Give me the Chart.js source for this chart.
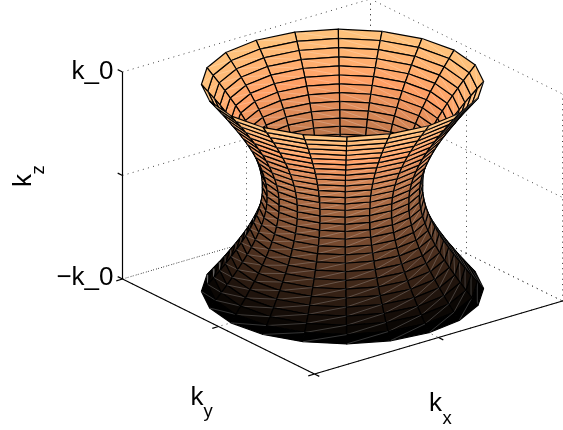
<!DOCTYPE html>
<html>
<head>
<meta charset="utf-8">
<style>html,body{margin:0;padding:0;background:#fff}canvas{display:block}</style>
<script src="https://cdn.jsdelivr.net/npm/chart.js@4/dist/chart.umd.min.js"></script>
</head>
<body>
<canvas id="c" width="563" height="430"></canvas>
<script>
// Surface: ring height (in units of k_0) and ring radius.
const kzLevels = [-1,-0.9333,-0.8667,-0.8,-0.7333,-0.6667,-0.6,-0.5333,-0.4667,-0.4,-0.3333,-0.2667,-0.2,-0.1333,-0.0667,0,
  0.0667,0.1333,0.2,0.2667,0.3333,0.4,0.4667,0.5333,0.6,0.6667,0.7333,0.8,0.8667,0.9333,1];
const kRadii = [0.900,0.860,0.820,0.782,0.746,0.710,0.677,0.645,0.616,0.590,0.567,0.547,0.531,0.519,0.512,0.510,
  0.512,0.519,0.531,0.547,0.567,0.590,0.616,0.645,0.677,0.710,0.746,0.782,0.820,0.860,0.900];
const azimuthDeg = [0,18,36,54,72,90,108,126,144,162,180,198,216,234,252,270,288,306,324,342,360];
const axisTicks = [-1,0,1];
const zTickLabels = ['\u2212k_0','','k_0'];

// Orthographic view of the axes box
const view = {cx:342.5, cy:186.5, xx:124, xy:-96, yx:-36.5, yy:-47.5, yz:-103.5};
const project = (x,y,z)=>({x:view.cx+view.xx*x+view.xy*y, y:view.cy+view.yx*x+view.yy*y+view.yz*z});
const depth = (x,y,z)=>0.924*(-0.612*x-0.791*y)+0.383*0.714*z;

function copper(v){
  return `rgb(${Math.round(255*Math.min(1,1.25*v))},${Math.round(255*0.7812*v)},${Math.round(255*0.4975*v)})`;
}
const base = {showLine:true, pointRadius:0, pointHoverRadius:0, tension:0, fill:false, clip:false, borderJoinStyle:'round'};

// Quads, nearest first: earlier datasets paint on top
const quads = [];
for(let j=0;j<kzLevels.length-1;j++){
  for(let i=0;i<azimuthDeg.length-1;i++){
    const a0=azimuthDeg[i]*Math.PI/180, a1=azimuthDeg[i+1]*Math.PI/180;
    const z0=kzLevels[j], z1=kzLevels[j+1], r0=kRadii[j], r1=kRadii[j+1];
    const P=(a,r,z)=>[r*Math.cos(a),r*Math.sin(a),z];
    const c=[P(a0,r0,z0),P(a1,r0,z0),P(a1,r1,z1),P(a0,r1,z1)];
    const d=c.reduce((s,p)=>s+depth(p[0],p[1],p[2]),0)/4;
    quads.push({c,d,v:(z0+1)/2});
  }
}
quads.sort((a,b)=>b.d-a.d);

const datasets=[];
quads.forEach(q=>{
  const pts=q.c.map(p=>project(p[0],p[1],p[2]));
  // seam between the two triangles of a facet
  datasets.push({...base,data:[pts[0],pts[2]],borderColor:'rgba(255,255,255,0.3)',borderWidth:0.7});
  datasets.push({...base,data:[pts[0],pts[1],pts[2],pts[3],pts[0]],fill:'shape',backgroundColor:copper(q.v),borderColor:'#000',borderWidth:1.2});
});

// Axis box
const solid=(a,b)=>datasets.push({...base,data:[project(...a),project(...b)],borderColor:'#000',borderWidth:1.2});
const dotted=(a,b)=>datasets.push({...base,data:[project(...a),project(...b)],borderColor:'#444',borderWidth:1,borderDash:[1,4.3]});
solid([-1,1,-1],[-1,1,1]);
solid([-1,1,-1],[-1,-1,-1]);
solid([-1,-1,-1],[1,-1,-1]);
axisTicks.forEach(t=>{
  solid([-1,1,t],[-1,1.05,t]);
  solid([t,-1,-1],[t,-1.05,-1]);
  solid([-1,t,-1],[-1.05,t,-1]);
  dotted([-1,1,t],[1,1,t]);
  dotted([1,1,t],[1,-1,t]);
  dotted([t,1,-1],[t,1,1]);
  dotted([1,t,-1],[1,t,1]);
  dotted([t,1,-1],[t,-1,-1]);
  dotted([1,t,-1],[-1,t,-1]);
});

const labels={
  id:'labels',
  afterDraw(chart){
    const {ctx,scales:{x,y}}=chart;
    const big='26px "Liberation Sans"', small='18.5px "Liberation Sans"';
    ctx.save();
    ctx.fillStyle='#000';
    ctx.textBaseline='alphabetic';
    // z tick labels
    ctx.font=big; ctx.textAlign='right';
    axisTicks.forEach((t,i)=>{
      if(!zTickLabels[i])return;
      const p=project(-1,1,t);
      ctx.fillText(zTickLabels[i],x.getPixelForValue(p.x)-9,y.getPixelForValue(p.y)+(t>0?7:5.5));
    });
    ctx.textAlign='left';
    // k_x
    ctx.font=big; ctx.fillText('k',x.getPixelForValue(429),y.getPixelForValue(410.5));
    ctx.font=small; ctx.fillText('x',x.getPixelForValue(442.5),y.getPixelForValue(424));
    // k_y
    ctx.font=big; ctx.fillText('k',x.getPixelForValue(190.5),y.getPixelForValue(405));
    ctx.font=small; ctx.fillText('y',x.getPixelForValue(203.5),y.getPixelForValue(417));
    // k_z rotated
    ctx.save();
    ctx.translate(x.getPixelForValue(31),y.getPixelForValue(187));
    ctx.rotate(-Math.PI/2);
    ctx.font=big; ctx.fillText('k',0,0);
    ctx.font=small; ctx.fillText('z',12.5,13);
    ctx.restore();
    ctx.restore();
  }
};

new Chart(document.getElementById('c'),{
  type:'scatter',
  data:{datasets},
  plugins:[labels],
  options:{
    responsive:false, animation:false, events:[],
    layout:{padding:0},
    plugins:{legend:{display:false},tooltip:{enabled:false},title:{display:false}},
    scales:{
      x:{type:'linear',min:0,max:563,display:false},
      y:{type:'linear',min:0,max:430,reverse:true,display:false}
    }
  }
});
</script>
</body>
</html>
